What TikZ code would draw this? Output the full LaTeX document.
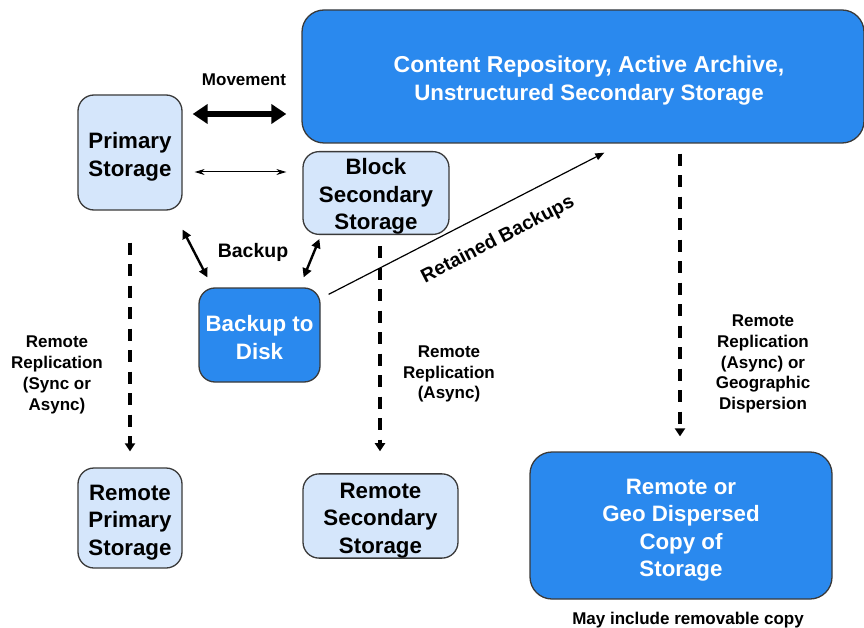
\documentclass[tikz,border=0pt]{standalone}
\usepackage{fontspec}
\setmainfont{Liberation Sans}
\usetikzlibrary{arrows.meta,calc}
\definecolor{lightbox}{HTML}{D5E6FB}
\definecolor{darkbox}{HTML}{2A89EE}
\definecolor{boxline}{HTML}{3A3A3A}
\newcommand{\topstrut}[1]{\rule{0pt}{#1}}
\tikzset{
  boxbase/.style={draw=boxline, line width=1.3pt, rounded corners=16pt, inner sep=0pt, align=center,
    font=\fontsize{22.3}{27.5}\selectfont\bfseries},
  lightnode/.style={boxbase, fill=lightbox, text=black},
  darknode/.style={boxbase, fill=darkbox, text=white},
  lbl/.style={align=center, inner sep=0pt, font=\fontsize{17}{20.8}\selectfont\bfseries},
  dasharrow/.style={line width=3.1pt, dash pattern=on 12pt off 9.5pt, -{Triangle[width=10pt,length=8pt]}},
  thickarrow/.style={line width=5.5pt, {Triangle[width=19pt,length=15pt]}-{Triangle[width=19pt,length=15pt]}},
  thinarrow/.style={line width=1pt, {Stealth[width=6pt,length=10pt]}-{Stealth[width=6pt,length=10pt]}},
  bkarrow/.style={line width=2.4pt, {Triangle[width=9pt,length=9pt]}-{Triangle[width=9pt,length=9pt]}},
  retarrow/.style={line width=1.2pt, -{Triangle[width=7pt,length=9pt]}}
}
\begin{document}
\begin{tikzpicture}[x=1pt,y=-1pt]
\useasboundingbox[fill=white] (0,0) rectangle (864,628);
% boxes
\node[darknode, rounded corners=22pt, minimum width=562pt, minimum height=133pt] (content) at (583,76.5)
  {\fontsize{23}{28}\selectfont\hspace*{12pt}\topstrut{25pt}Content Repository, Active Archive,\\\hspace*{12pt}Unstructured Secondary Storage};
\node[lightnode, minimum width=104pt, minimum height=115pt] (prim) at (130,152.5) {\topstrut{24.5pt}Primary\\Storage};
\node[lightnode, minimum width=146pt, minimum height=80pt] (block) at (376,193) {\topstrut{23pt}Block\\Secondary\\Storage};
\node[darknode, minimum width=121pt, minimum height=94pt] (b2d) at (259.5,335) {\topstrut{21pt}Backup to\\Disk};
\node[lightnode, minimum width=104pt, minimum height=100pt] (remprim) at (130,518) {\topstrut{24.5pt}Remote\\Primary\\Storage};
\node[lightnode, minimum width=155pt, minimum height=84pt] (remsec) at (380.5,516) {\topstrut{24.5pt}Remote\\Secondary\\Storage};
\node[darknode, rounded corners=22pt, minimum width=302pt, minimum height=147pt] (geo) at (681,525.5)
  {\topstrut{24.5pt}Remote or\\Geo Dispersed\\Copy of\\Storage};
% labels
\node[lbl] (mov) at (244,80) {Movement};
\node[lbl, font=\fontsize{19.5}{22}\selectfont\bfseries] (bk) at (253,252) {Backup};
\node[lbl, rotate=27.3, font=\fontsize{19.5}{22}\selectfont\bfseries] (ret) at (498,240) {Retained Backups};
\node[lbl] (rr1) at (57,375) {Remote\\Replication\\(Sync or\\Async)};
\node[lbl] (rr2) at (449,374) {Remote\\Replication\\(Async)};
\node[lbl] (rr3) at (763,364) {Remote\\Replication\\(Async) or\\Geographic\\Dispersion};
\node[lbl] (may) at (688,620) {May include removable copy};
% connectors
\draw[thickarrow] ($(prim.east |- 0,114)+(10,0)$) -- ($(content.west |- 0,114)+(-15,0)$);
\draw[thinarrow] ($(prim.east |- 0,172)+(12,0)$) -- ($(block.west |- 0,172)+(-16,0)$);
\draw[bkarrow] ($(prim.south east)+(0,19)$) -- ($(b2d.north west)+(9,-10)$);
\draw[bkarrow] ($(block.south west)+(17,4)$) -- ($(b2d.north east)+(-17,-10)$);
\draw[retarrow] ($(b2d.north east)+(8,7)$) -- ($(content.south west)+(303,9)$);
\draw[dasharrow] ($(prim.south)+(0,32)$) -- ($(remprim.north)+(0,-16)$);
\draw[dasharrow] ($(block.south)+(4,11)$) -- ($(remsec.north)+(-0.5,-22)$);
\draw[dasharrow] ($(content.south -| geo.north)+(-1,10)$) -- ($(geo.north)+(-1,-15)$);
\end{tikzpicture}
\end{document}
